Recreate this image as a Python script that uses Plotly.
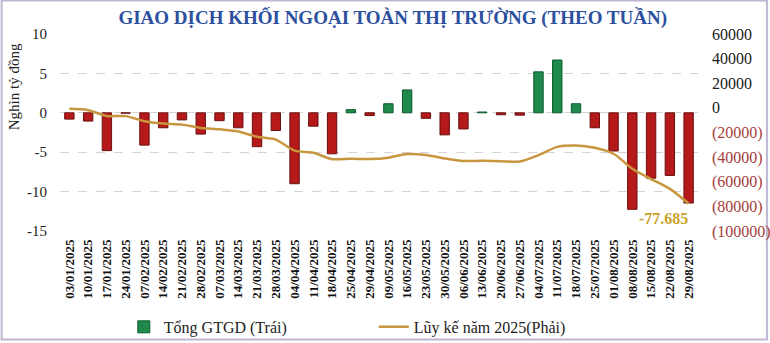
import plotly.graph_objects as go

dates = ["03/01/2025", "10/01/2025", "17/01/2025", "24/01/2025", "07/02/2025", "14/02/2025",
         "21/02/2025", "28/02/2025", "07/03/2025", "14/03/2025", "21/03/2025", "28/03/2025",
         "04/04/2025", "11/04/2025", "18/04/2025", "25/04/2025", "29/04/2025", "09/05/2025",
         "16/05/2025", "23/05/2025", "30/05/2025", "06/06/2025", "13/06/2025", "20/06/2025",
         "27/06/2025", "04/07/2025", "11/07/2025", "18/07/2025", "25/07/2025", "01/08/2025",
         "08/08/2025", "15/08/2025", "22/08/2025", "29/08/2025"]

weekly_net = [-0.8, -1.05, -4.8, -0.05, -4.1, -1.9,
              -0.9, -2.7, -1.0, -1.9, -4.3, -2.25,
              -9.0, -1.7, -5.2, 0.4, -0.35, 1.15,
              2.9, -0.7, -2.8, -2.05, 0.1, -0.25,
              -0.3, 5.2, 6.7, 1.15, -1.9, -4.85,
              -12.25, -8.3, -7.95, -11.45]

cumulative = [-800, -1850, -6650, -6700, -10800, -12700,
              -13600, -16300, -17300, -19200, -23500, -25750,
              -34750, -36450, -41650, -41250, -41600, -40450,
              -37550, -38250, -41050, -43100, -43000, -43250,
              -43550, -38350, -31650, -30500, -32400, -37250,
              -49500, -57800, -65750, -77685]

left_ticks = [10, 5, 0, -5, -10, -15]
right_ticks = [60000, 40000, 20000, 0, -20000, -40000, -60000, -80000, -100000]

SERIF = "Liberation Serif"

def right_label(v):
    if v < 0:
        return "<span style='color:#A8403A'>(%d)</span>" % (-v)
    return str(v)

pos_vals = [v if v > 0 else None for v in weekly_net]
neg_vals = [v if v <= 0 else None for v in weekly_net]

fig = go.Figure()
fig.add_trace(go.Bar(
    x=dates, y=pos_vals, name="Tổng GTGD (Trái)", width=0.5,
    marker=dict(color="#1F8A4C", line=dict(color="#0E5A2E", width=1)),
    yaxis="y"))
fig.add_trace(go.Bar(
    x=dates, y=neg_vals, name="neg", showlegend=False, width=0.5,
    marker=dict(color="#B5191A", line=dict(color="#6A0F0F", width=1)),
    yaxis="y"))
fig.add_trace(go.Scatter(
    x=dates, y=cumulative, name="Lũy kế năm 2025(Phải)", mode="lines",
    line=dict(color="#C8963E", width=2.5, shape="spline", smoothing=0.8),
    yaxis="y2"))

fig.update_layout(
    width=770, height=343,
    margin=dict(l=60, r=72, t=34, b=112, autoexpand=False),
    paper_bgcolor="white", plot_bgcolor="white",
    barmode="overlay",
    font=dict(family=SERIF, color="#222222"),
    showlegend=True,
    legend=dict(orientation="h", x=0.1, y=-0.487, xanchor="left", yanchor="middle",
                font=dict(family=SERIF, size=16, color="#222222"),
                entrywidth=205, entrywidthmode="pixels", bgcolor="rgba(0,0,0,0)"),
    xaxis=dict(type="category", range=[-0.5, len(dates) - 0.5], tickangle=-90,
               tickfont=dict(family=SERIF, size=13, color="#111111", weight="bold"),
               showgrid=False, zeroline=False, showline=False, ticks="",
               ticklabelstandoff=5, automargin=False),
    yaxis=dict(range=[-15, 10], tickvals=left_ticks, ticktext=[str(v) for v in left_ticks],
               tickfont=dict(family=SERIF, size=15, color="#222222"),
               showgrid=True, gridcolor="#D4D4D4", griddash="dash", gridwidth=1,
               zeroline=False, showline=False, ticks="", ticklabelstandoff=12,
               automargin=False),
    yaxis2=dict(range=[-100000, 60000], overlaying="y", side="right",
                tickvals=right_ticks, ticktext=[right_label(v) for v in right_ticks],
                tickfont=dict(family=SERIF, size=16, color="#222222"),
                showgrid=False, zeroline=False, showline=False, ticks="",
                ticklabelstandoff=13, automargin=False),
    title=dict(text="GIAO DỊCH KHỐI NGOẠI TOÀN THỊ TRƯỜNG (THEO TUẦN)",
               x=0.51, xanchor="center", y=0.95, yanchor="middle",
               font=dict(family=SERIF, size=19, color="#2C4F9E", weight="bold")),
)

fig.add_annotation(text="Nghìn tỷ đồng", textangle=-90, xref="paper", yref="paper",
                   x=-0.072, y=0.73, xanchor="center", yanchor="middle", showarrow=False,
                   font=dict(family=SERIF, size=15, color="#222222"))
fig.add_annotation(text="-77.685", xref="x", yref="y2", x=dates[32], y=-90000,
                   showarrow=False, xanchor="center", xshift=-6,
                   font=dict(family=SERIF, size=16, color="#C9A227", weight="bold"))

fig.add_shape(type="rect", xref="paper", yref="paper",
              x0=-0.0915, x1=1.108, y0=-0.551, y1=1.17,
              line=dict(color="#BDB6D2", width=2), fillcolor="rgba(0,0,0,0)", layer="below")

fig.write_html("out.html")
